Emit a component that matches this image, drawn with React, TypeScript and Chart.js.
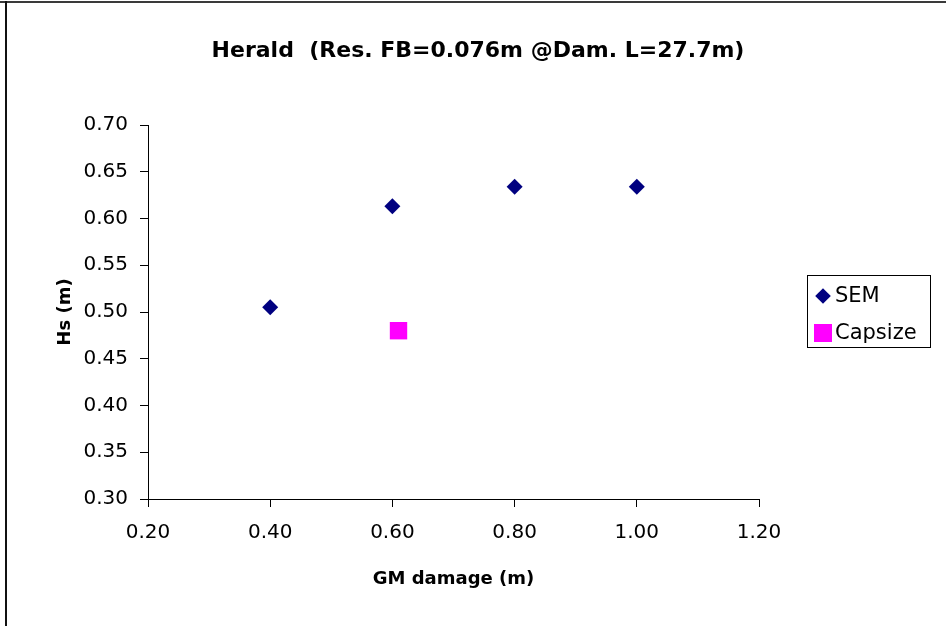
import React, { useEffect, useRef } from 'react';
import { Chart, registerables } from 'chart.js';

Chart.register(...registerables);

const CHART_TITLE = 'Herald  (Res. FB=0.076m @Dam. L=27.7m)';
const X_AXIS_TITLE = 'GM damage (m)';
const Y_AXIS_TITLE = 'Hs (m)';
const SERIES_NAMES = ['SEM', 'Capsize'];

const semX = [0.4, 0.6, 0.8, 1.0];
const semY = [0.505, 0.613, 0.634, 0.634];
const capsizeX = [0.61];
const capsizeY = [0.48];

const X_MIN = 0.2;
const X_MAX = 1.2;
const X_STEP = 0.2;
const Y_MIN = 0.3;
const Y_MAX = 0.7;
const Y_STEP = 0.05;

const FONT = "'DejaVu Sans', 'Liberation Sans', Arial, sans-serif";

const decorPlugin = {
  id: 'decor',
  beforeDraw(chart: any) {
    const ctx = chart.ctx;
    ctx.save();
    ctx.fillStyle = '#ffffff';
    ctx.fillRect(0, 0, chart.width, chart.height);
    ctx.fillStyle = '#3a3a3a';
    ctx.fillRect(0, 1, chart.width, 2);
    ctx.fillStyle = '#111111';
    ctx.fillRect(5, 1, 2, chart.height - 1);
    ctx.restore();
  },
  afterDraw(chart: any) {
    const ctx = chart.ctx;
    ctx.save();
    // title
    ctx.fillStyle = '#000';
    ctx.font = `bold 22px ${FONT}`;
    ctx.textAlign = 'center';
    ctx.textBaseline = 'middle';
    ctx.fillText(CHART_TITLE, 478, 51);

    // legend
    const bx = 807.5, by = 275.5, bw = 123, bh = 72;
    ctx.strokeStyle = '#000';
    ctx.lineWidth = 1;
    ctx.strokeRect(bx, by, bw, bh);
    ctx.font = `21px ${FONT}`;
    ctx.textAlign = 'left';
    ctx.textBaseline = 'middle';
    const rows = [296, 333];
    chart.data.datasets.forEach((ds: any, i: number) => {
      const cy = rows[i];
      const cx = 823;
      ctx.fillStyle = ds.backgroundColor;
      ctx.beginPath();
      if (ds.pointStyle === 'rectRot') {
        const h = 7.8;
        ctx.moveTo(cx, cy - h);
        ctx.lineTo(cx + h, cy);
        ctx.lineTo(cx, cy + h);
        ctx.lineTo(cx - h, cy);
        ctx.closePath();
        ctx.fill();
      } else {
        const h = 9;
        ctx.fillRect(cx - h, cy - h, 2 * h, 2 * h);
      }
      ctx.fillStyle = '#000';
      ctx.fillText(ds.label, 835, cy + 1);
    });
    ctx.restore();
  },
};

export default function App() {
  const canvasRef = useRef<HTMLCanvasElement | null>(null);

  useEffect(() => {
    const canvas = canvasRef.current;
    if (!canvas) return;
    const chart = new Chart(canvas, {
      type: 'scatter',
      data: {
        datasets: [
          {
            label: SERIES_NAMES[0],
            data: semX.map((x, i) => ({ x, y: semY[i] })),
            backgroundColor: '#000080',
            borderColor: '#000080',
            borderWidth: 0,
            pointStyle: 'rectRot',
            pointRadius: 8,
            pointHoverRadius: 8,
          },
          {
            label: SERIES_NAMES[1],
            data: capsizeX.map((x, i) => ({ x, y: capsizeY[i] })),
            backgroundColor: '#FF00FF',
            borderColor: '#FF00FF',
            borderWidth: 0,
            pointStyle: 'rect',
            pointRadius: 12.3,
            pointHoverRadius: 12.3,
          },
        ],
      },
      options: {
        animation: false,
        responsive: false,
        devicePixelRatio: 1,
        events: [],
        layout: { padding: { left: 0, right: 187, top: 125, bottom: 0 } },
        plugins: {
          legend: { display: false },
          title: { display: false },
          tooltip: { enabled: false },
        },
        scales: {
          x: {
            type: 'linear',
            min: X_MIN,
            max: X_MAX,
            afterFit: (axis: any) => {
              axis.height = 127;
            },
            ticks: {
              stepSize: X_STEP,
              color: '#000',
              padding: 14,
              font: { family: FONT, size: 20 },
              callback: (v: any) => Number(v).toFixed(2),
            },
            grid: {
              drawOnChartArea: false,
              drawTicks: true,
              tickLength: 8,
              color: '#000',
            },
            border: { display: true, color: '#000', width: 1 },
            title: {
              display: true,
              text: X_AXIS_TITLE,
              color: '#000',
              font: { family: FONT, size: 18, weight: 'bold' },
              padding: { top: 0, bottom: 36 },
            },
          },
          y: {
            type: 'linear',
            min: Y_MIN,
            max: Y_MAX,
            afterFit: (axis: any) => {
              axis.width = 148;
            },
            ticks: {
              stepSize: Y_STEP,
              color: '#000',
              padding: 12,
              font: { family: FONT, size: 20 },
              callback: (v: any) => Number(v).toFixed(2),
            },
            grid: {
              drawOnChartArea: false,
              drawTicks: true,
              tickLength: 8,
              color: '#000',
            },
            border: { display: true, color: '#000', width: 1 },
            title: {
              display: true,
              text: Y_AXIS_TITLE,
              color: '#000',
              font: { family: FONT, size: 18, weight: 'bold' },
              padding: { top: 55, bottom: 0 },
            },
          },
        },
      },
      plugins: [decorPlugin],
    });
    return () => chart.destroy();
  }, []);

  return (
    <div style={{ position: 'fixed', left: 0, top: 0, width: 946, height: 626, background: '#fff' }}>
      <canvas ref={canvasRef} width={946} height={626} style={{ display: 'block', width: 946, height: 626 }} />
    </div>
  );
}
